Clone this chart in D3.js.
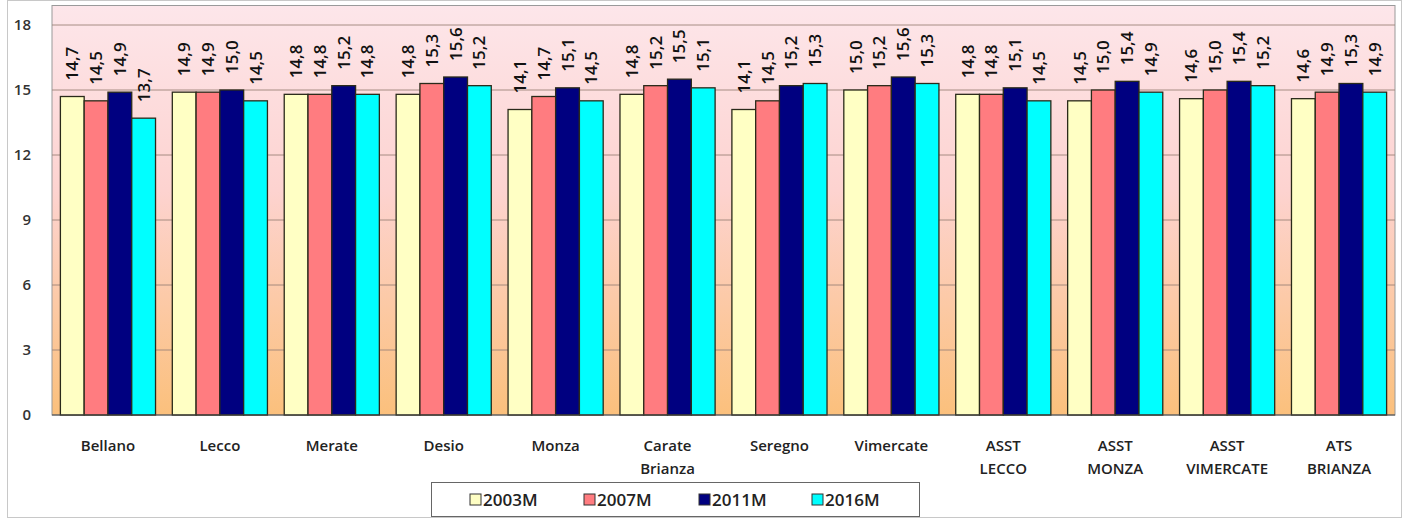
<!DOCTYPE html>
<html>
<head>
<meta charset="utf-8">
<script src="https://cdn.jsdelivr.net/npm/d3@7"></script>
<style>
  body { margin: 0; background: #fff; }
  svg text { font-family: "Open Sans", "Liberation Sans", sans-serif; }
</style>
</head>
<body>
<svg id="chart" width="1404" height="522"></svg>
<script>
// categories (multi-line labels split on "|")
const categories = ["Bellano", "Lecco", "Merate", "Desio", "Monza", "Carate|Brianza",
  "Seregno", "Vimercate", "ASST|LECCO", "ASST|MONZA", "ASST|VIMERCATE", "ATS|BRIANZA"];

const seriesNames = ["2003M", "2007M", "2011M", "2016M"];
const seriesColors = ["#ffffc4", "#ff7c80", "#000080", "#00ffff"];

const v2003 = [14.7, 14.9, 14.8, 14.8, 14.1, 14.8, 14.1, 15.0, 14.8, 14.5, 14.6, 14.6];
const v2007 = [14.5, 14.9, 14.8, 15.3, 14.7, 15.2, 14.5, 15.2, 14.8, 15.0, 15.0, 14.9];
const v2011 = [14.9, 15.0, 15.2, 15.6, 15.1, 15.5, 15.2, 15.6, 15.1, 15.4, 15.4, 15.3];
const v2016 = [13.7, 14.5, 14.8, 15.2, 14.5, 15.1, 15.3, 15.3, 14.5, 14.9, 15.2, 14.9];

const yTicks = [0, 3, 6, 9, 12, 15, 18];

const allSeries = [v2003, v2007, v2011, v2016];

const svg = d3.select("#chart");
const plotLeft = 52, plotRight = 1395, plotTop = 5.5, plotBottom = 415;

// outer chart frame
svg.append("rect")
  .attr("x", 7.5).attr("y", 0.5)
  .attr("width", 1394).attr("height", 517)
  .attr("fill", "none")
  .attr("stroke", "#c8c8c8");

const defs = svg.append("defs");
const grad = defs.append("linearGradient")
  .attr("id", "bg").attr("x1", 0).attr("y1", 0).attr("x2", 0).attr("y2", 1);
grad.append("stop").attr("offset", "0%").attr("stop-color", "#fde6ea");
grad.append("stop").attr("offset", "45%").attr("stop-color", "#fdd3d0");
grad.append("stop").attr("offset", "100%").attr("stop-color", "#fbc07c");

const x = d3.scaleBand()
  .domain(categories)
  .range([plotLeft, plotRight])
  .paddingInner(0.15)
  .paddingOuter(0.075);

const xSub = d3.scaleBand()
  .domain(seriesNames)
  .range([0, x.bandwidth()]);

const y = d3.scaleLinear()
  .domain([0, 18.9])
  .range([plotBottom, plotTop]);

// plot background
svg.append("rect")
  .attr("x", plotLeft).attr("y", plotTop)
  .attr("width", plotRight - plotLeft).attr("height", plotBottom - plotTop)
  .attr("fill", "url(#bg)")
  .attr("stroke", "#9a9a9a");

// gridlines
svg.append("g")
  .selectAll("line")
  .data(yTicks.filter(d => d > 0))
  .join("line")
  .attr("x1", plotLeft).attr("x2", plotRight)
  .attr("y1", d => y(d)).attr("y2", d => y(d))
  .attr("stroke", "#9c8478")
  .attr("stroke-width", 0.9);

// y axis labels
svg.append("g")
  .selectAll("text")
  .data(yTicks)
  .join("text")
  .attr("x", 31)
  .attr("y", d => y(d))
  .attr("dy", "0.35em")
  .attr("text-anchor", "end")
  .attr("font-size", 15)
  .attr("font-weight", 600)
  .attr("fill", "#333")
  .text(d => d);

// bars
const rows = categories.map((c, i) => ({
  cat: c,
  vals: seriesNames.map((s, j) => ({ s, j, v: allSeries[j][i] }))
}));

const group = svg.append("g")
  .selectAll("g")
  .data(rows)
  .join("g")
  .attr("transform", d => `translate(${x(d.cat)},0)`);

group.selectAll("rect")
  .data(d => d.vals)
  .join("rect")
  .attr("x", d => xSub(d.s))
  .attr("y", d => y(d.v))
  .attr("width", xSub.bandwidth())
  .attr("height", d => plotBottom - y(d.v))
  .attr("fill", d => seriesColors[d.j])
  .attr("stroke", "#2a2a1a")
  .attr("stroke-width", 1.3);

// value labels (rotated)
group.selectAll("text.val")
  .data(d => d.vals)
  .join("text")
  .attr("class", "val")
  .attr("transform", d => `translate(${xSub(d.s) + xSub.bandwidth() / 2 + 6},${y(d.v) - 16}) rotate(-90)`)
  .attr("font-size", 17)
  .attr("font-weight", 600)
  .attr("fill", "#111")
  .text(d => d.v.toFixed(1).replace(".", ","));

// baseline
svg.append("line")
  .attr("x1", plotLeft).attr("x2", plotRight)
  .attr("y1", plotBottom).attr("y2", plotBottom)
  .attr("stroke", "#444");

// category labels
const catText = svg.append("g")
  .selectAll("text")
  .data(categories)
  .join("text")
  .attr("x", d => x(d) + x.bandwidth() / 2)
  .attr("y", 451)
  .attr("text-anchor", "middle")
  .attr("font-size", 15)
  .attr("font-weight", 600)
  .attr("fill", "#222");

catText.selectAll("tspan")
  .data(d => d.split("|"))
  .join("tspan")
  .attr("x", function () { return d3.select(this.parentNode).attr("x"); })
  .attr("dy", (d, i) => i === 0 ? 0 : 23)
  .text(d => d);

// legend
const legend = svg.append("g");
legend.append("rect")
  .attr("x", 431.5).attr("y", 482.5)
  .attr("width", 488).attr("height", 34)
  .attr("fill", "#fff")
  .attr("stroke", "#666");

const legendX = [470, 584, 699, 812];
const item = legend.selectAll("g")
  .data(seriesNames)
  .join("g")
  .attr("transform", (d, i) => `translate(${legendX[i]},500)`);

item.append("rect")
  .attr("x", 0).attr("y", -6)
  .attr("width", 11).attr("height", 11)
  .attr("fill", (d, i) => seriesColors[i])
  .attr("stroke", "#333");

item.append("text")
  .attr("x", 13).attr("y", 0)
  .attr("dy", "0.35em")
  .attr("font-size", 17)
  .attr("font-weight", 600)
  .attr("fill", "#222")
  .text(d => d);
</script>
</body>
</html>
